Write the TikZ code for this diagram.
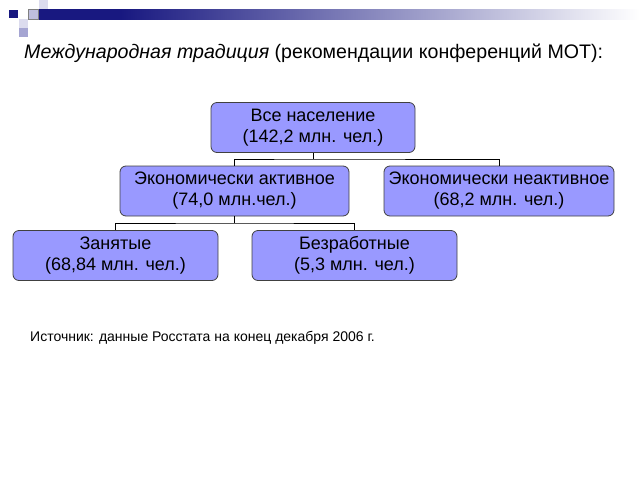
\documentclass[tikz,border=0pt]{standalone}
\usepackage{fontspec}
\setmainfont{Liberation Sans}
\usetikzlibrary{positioning}
\definecolor{lilla}{RGB}{153,153,255}
\definecolor{blunotte}{RGB}{24,24,128}
\definecolor{grigioblu}{RGB}{190,190,222}
\definecolor{chiaro}{RGB}{220,220,238}
\definecolor{medio}{RGB}{165,165,210}

\begin{document}
\begin{tikzpicture}[x=1pt,y=-1pt]

% cornice della pagina
\useasboundingbox (0,0) rectangle (640,480);

% definizione colore di riempimento
\tikzset{myfillcolor/.style ={fill=#1, draw=none}}
% definizione delle caratteristiche del riquadro
\tikzset{mybox/.style={rectangle, rounded corners=6pt, draw=black!75, fill=lilla, line width=0.8pt, minimum width=#1, minimum height=50pt, inner sep=0pt, align=center, font=\fontsize{18}{21}\selectfont}}

% quadratini e barra sfumata in alto
\path[myfillcolor=blunotte] (9,10) rectangle (18,18);
\path[myfillcolor=chiaro] (39,0) rectangle (48,9);
\path[myfillcolor=chiaro] (19,19) rectangle (28,28);
\path[myfillcolor=medio] (19,28) rectangle (28,37);
\path[myfillcolor=blunotte] (39,9) rectangle (121,19.5);
\shade[left color=blunotte, right color=white] (120,9) rectangle (640,19.5);
\draw[fill=grigioblu, draw=gray] (28.5,9.5) rectangle (38.5,19);

% titolo
\node[anchor=base west, inner sep=0pt, font=\fontsize{19.6}{24}\selectfont] (titolo) at (24,58)
  {\textit{Международная традиция} (рекомендации конференций МОТ):};

% riquadri
\node[mybox=204] (tot) at (313,127.5) {Все население\\(142,2 млн. чел.)};
\node[mybox=229] (att) at (234.5,191) {Экономически активное\\(74,0 млн.чел.)};
\node[mybox=230] (inatt) at (499,191) {Экономически неактивное\\(68,2 млн. чел.)};
\node[mybox=205] (occ) at (115.5,255.5) {Занятые\\(68,84 млн. чел.)};
\node[mybox=205] (dis) at (354.5,255.5) {Безработные\\(5,3 млн. чел.)};

% punti di diramazione
\coordinate (g1) at (313,159);
\coordinate (g2) at (234.5,223);

% linee di collegamento
\draw[line width=1pt] (tot.south) -- (g1);
\draw[line width=1pt] (att.north) |- (g1) -| (inatt.north);
\draw[line width=1pt] (att.south) -- (g2);
\draw[line width=1pt] (occ.north) |- (g2) -| (dis.north);

% fonte dei dati
\node[anchor=base west, inner sep=0pt, font=\fontsize{14}{17}\selectfont] (fonte) at (30,341)
  {Источник: данные Росстата на конец декабря 2006 г.};

\end{tikzpicture}
\end{document}
